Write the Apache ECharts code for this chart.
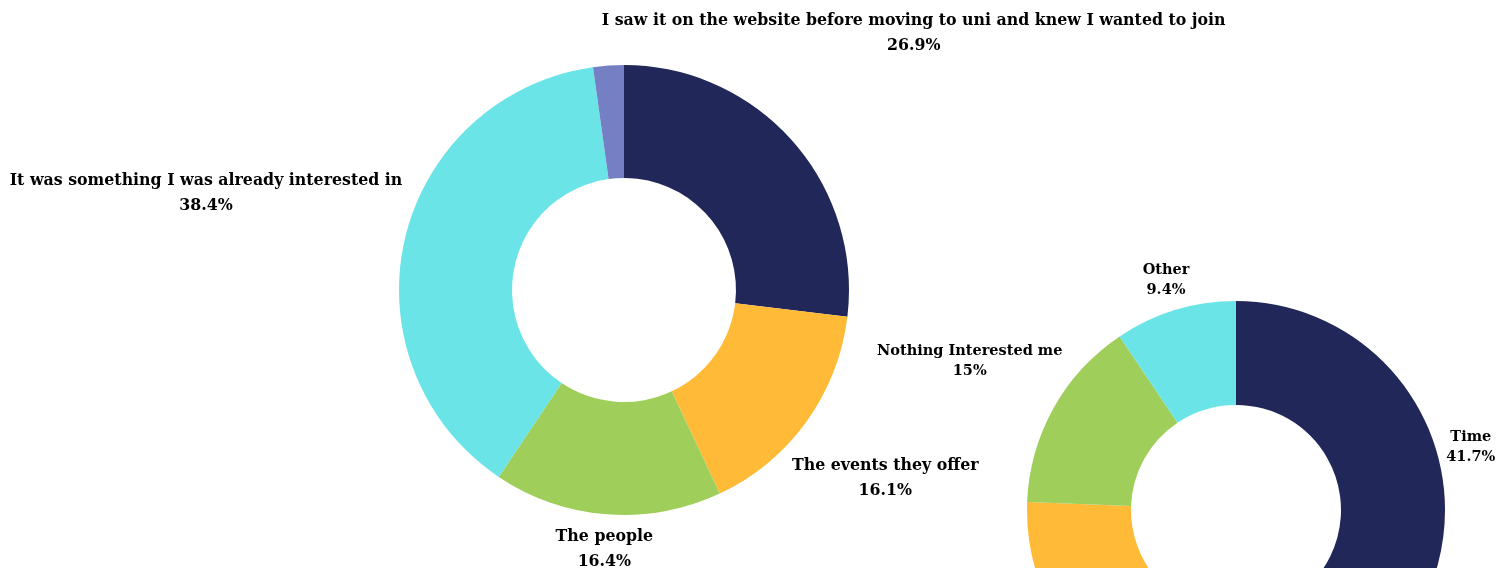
<!DOCTYPE html>
<html>
<head>
<meta charset="utf-8">
<script src="https://cdn.jsdelivr.net/npm/echarts@6/dist/echarts.min.js"></script>
<style>
  html, body { margin: 0; padding: 0; background: #ffffff; }
  #chart { width: 1511px; height: 568px; }
</style>
</head>
<body>
<div id="chart"></div>
<script>
// Why members joined the society
const reasonNames = [
  'I saw it on the website before moving to uni and knew I wanted to join',
  'The events they offer',
  'The people',
  'It was something I was already interested in',
  'Other'
];
const reasonValues = [26.9, 16.1, 16.4, 38.4, 2.2];

// What stopped people from joining
const barrierNames = ['Time', 'Cost', 'Nothing Interested me', 'Other'];
const barrierValues = [41.7, 33.9, 15, 9.4];

const palette = ['#212759', '#FFBA37', '#A0CE5A', '#6BE4E8', '#7580C4'];

// Ring geometry (px) for each donut, in series order
const rings = [
  { cx: 624, cy: 290, inner: 112, outer: 225, values: reasonValues, lineHeight: 25, fontSize: 15.8, gap: 7 },
  { cx: 1236, cy: 510, inner: 105, outer: 209, values: barrierValues, lineHeight: 20.5, fontSize: 14.5, gap: 5 }
];
const TOP_MARGIN = 8;

// Put each label just outside the ring, centred on the slice's mid-angle
function placeLabel(params) {
  const ring = rings[params.seriesIndex];
  const vals = ring.values;
  const total = vals.reduce((a, b) => a + b, 0);
  let before = 0;
  for (let i = 0; i < params.dataIndex; i++) before += vals[i];
  const mid = (before + vals[params.dataIndex] / 2) / total * Math.PI * 2;
  const ux = Math.sin(mid);
  const uy = -Math.cos(mid);
  const hw = params.labelRect.width / 2;
  const hh = params.labelRect.height / 2;
  let d = ring.outer + ring.gap + Math.abs(ux) * hw + Math.abs(uy) * hh;
  let y = ring.cy + uy * d;
  if (y - hh < TOP_MARGIN && uy < 0) {
    d = (ring.cy - TOP_MARGIN - hh) / -uy;
    y = ring.cy + uy * d;
  }
  return { x: ring.cx + ux * d, y: y, align: 'center', verticalAlign: 'middle' };
}

function buildSeries(names, values, ringIdx, hidden) {
  const ring = rings[ringIdx];
  return {
    type: 'pie',
    center: [ring.cx, ring.cy],
    radius: [ring.inner, ring.outer],
    startAngle: 90,
    clockwise: true,
    avoidLabelOverlap: false,
    silent: true,
    animation: false,
    label: {
      show: true,
      position: 'inside',
      formatter: '{b}\n{c}%',
      color: '#000000',
      fontFamily: 'DejaVu Serif',
      fontWeight: 'bold',
      fontSize: ring.fontSize,
      lineHeight: ring.lineHeight,
      align: 'center',
      overflow: 'none',
      textBorderWidth: 0
    },
    labelLine: { show: false },
    labelLayout: placeLabel,
    itemStyle: { borderWidth: 0 },
    data: names.map((n, i) => ({
      name: n,
      value: values[i],
      itemStyle: { color: palette[i] },
      label: hidden.indexOf(i) >= 0 ? { show: false } : undefined
    }))
  };
}

const chart = echarts.init(document.getElementById('chart'), null, { renderer: 'canvas' });
chart.setOption({
  backgroundColor: '#ffffff',
  series: [
    buildSeries(reasonNames, reasonValues, 0, [4]),
    buildSeries(barrierNames, barrierValues, 1, [])
  ]
});
</script>
</body>
</html>
